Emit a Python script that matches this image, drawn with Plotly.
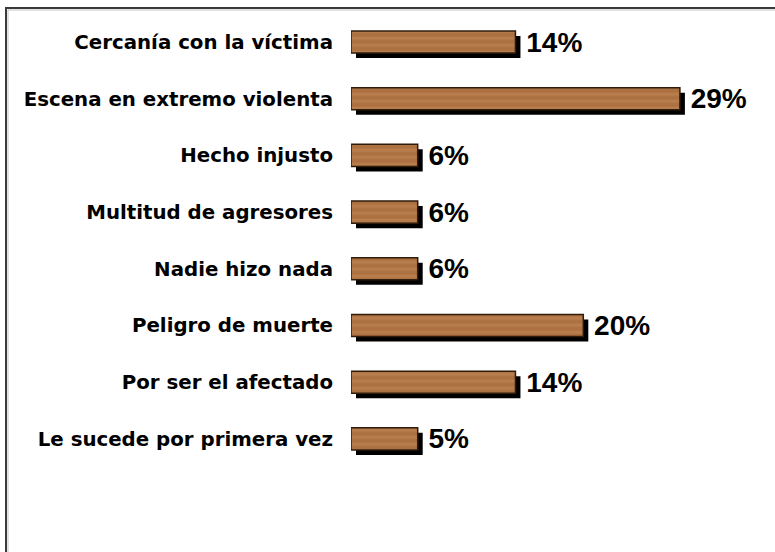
import plotly.graph_objects as go

# ---- data ----
categories = [
    "Cercanía con la víctima",
    "Escena en extremo violenta",
    "Hecho injusto",
    "Multitud de agresores",
    "Nadie hizo nada",
    "Peligro de muerte",
    "Por ser el afectado",
    "Le sucede por primera vez",
]
values = [14.3, 28.6, 5.8, 5.8, 5.8, 20.2, 14.3, 5.8]
value_labels = ["14%", "29%", "6%", "6%", "6%", "20%", "14%", "5%"]

# ---- geometry (pixels) ----
W, H = 775, 552
x0_px, x1_px = 351, 753.5          # main bars x domain, range 0..35
top_px, bot_px = 13.65, 467.25     # category band domain
sh = 5                             # shadow offset

def px_x(p):
    return p / W

def px_y(p):
    return 1 - p / H

fig = go.Figure()

# shadow bars (drawn first, underneath)
fig.add_trace(go.Bar(
    y=categories, x=values, orientation="h", width=0.39,
    marker=dict(color="#000000", line=dict(width=0)),
    xaxis="x", yaxis="y", hoverinfo="skip",
))

# main wooden bars
fig.add_trace(go.Bar(
    y=categories, x=values, orientation="h", width=0.39,
    marker=dict(
        color="#AD7040",
        line=dict(color="#2e1c0c", width=1.5),
        pattern=dict(shape="-", fgcolor="#CC9A66", fgopacity=0.3, size=7, solidity=0.45),
    ),
    text=[" " + t for t in value_labels],
    textposition="outside",
    textfont=dict(family="Liberation Sans, Arial", size=28, color="#000000", weight="bold"),
    cliponaxis=False,
    constraintext="none",
    xaxis="x2", yaxis="y2",
))

common_y = dict(
    type="category", categoryorder="array", categoryarray=categories,
    range=[7.5, -0.5], showgrid=False, zeroline=False, showline=False,
)
common_x = dict(range=[0, 35], showgrid=False, zeroline=False, showline=False,
                showticklabels=False, ticks="")

fig.update_layout(
    width=W, height=H,
    margin=dict(l=0, r=0, t=0, b=0),
    paper_bgcolor="white", plot_bgcolor="rgba(0,0,0,0)",
    showlegend=False,
    xaxis=dict(domain=[px_x(x0_px + sh), px_x(x1_px + sh)], anchor="y", **common_x),
    yaxis=dict(domain=[px_y(bot_px + sh), px_y(top_px + sh)], anchor="x",
               showticklabels=False, ticks="", **common_y),
    xaxis2=dict(domain=[px_x(x0_px), px_x(x1_px)], anchor="y2", **common_x),
    yaxis2=dict(domain=[px_y(bot_px), px_y(top_px)], anchor="x2",
                showticklabels=True, ticks="outside", ticklen=13,
                tickcolor="rgba(0,0,0,0)",
                tickfont=dict(family="DejaVu Sans", size=19.8, color="#000000", weight="bold"),
                **common_y),
    shapes=[
        dict(type="rect", xref="paper", yref="paper",
             x0=px_x(6), x1=px_x(820), y0=px_y(8), y1=px_y(620),
             line=dict(color="#3a3a3a", width=2), layer="below"),
        dict(type="rect", xref="paper", yref="paper",
             x0=px_x(8), x1=px_x(820), y0=px_y(10), y1=px_y(620),
             line=dict(color="#c4c4c4", width=1), layer="below"),
    ],
)

fig.write_html(
    "out.html",
    config={"displayModeBar": False},
    post_script="document.body.style.margin='0';document.body.style.padding='0';",
)
